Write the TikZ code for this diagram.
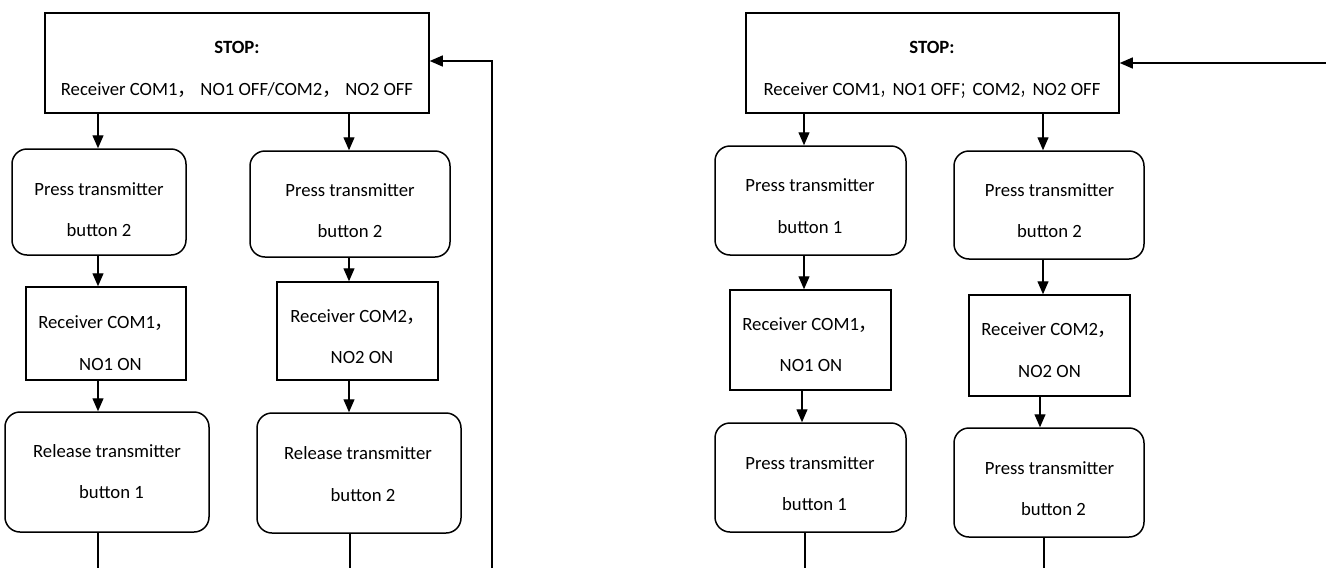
\documentclass[tikz,border=0pt]{standalone}
\usepackage{fontspec}
\setmainfont{Carlito}
\newfontfamily\cjk{Noto Sans CJK SC}
\usetikzlibrary{arrows.meta,fit}
\newcommand{\fcomma}{{\cjk ，}}
\newcommand{\hcomma}{\scalebox{0.66}[1]{\cjk ，}}
\newcommand{\hsemi}{\scalebox{0.66}[1]{\cjk ；}}
\begin{document}
\begin{tikzpicture}[x=1pt,y=-1pt,
  sq/.style={draw,line width=1.5pt,inner sep=0pt},
  rd/.style={draw,line width=1.5pt,inner sep=0pt,rounded corners=15pt},
  txt/.style={anchor=base,inner sep=0pt,font=\fontsize{18.7}{22}\selectfont},
  arr/.style={line width=1.3pt,-{Triangle[length=13pt,width=11pt]}},
  ln/.style={line width=1.3pt}]
\useasboundingbox (0,0) rectangle (1326,568);
\fill[white] (0,0) rectangle (1326,568);
% ---------- left chart ----------
\node[sq,fit={(45,13) (429,113)}] (s1) {};
\node[rd,fit={(12,149) (186,255)}] (p1) {};
\node[sq,fit={(26,287) (186,380)}] (r1) {};
\node[rd,fit={(5,412) (209,532)}] (rel1) {};
\node[rd,fit={(250,151) (450,257)}] (p2) {};
\node[sq,fit={(277,282) (438,380)}] (r2) {};
\node[rd,fit={(257,413) (461,533)}] (rel2) {};
\node[txt] (s1a) at (237,53) {\bfseries STOP:};
\node[txt] (s1b) at (237,95) {Receiver COM1\fcomma\ NO1 OFF/COM2\fcomma\ NO2 OFF};
\node[txt] (p1a) at (99,195) {Press transmitter};
\node[txt] (p1b) at (99,236) {button 2};
\node[txt] (r1a) at (106,328) {Receiver COM1\fcomma};
\node[txt] (r1b) at (110.5,370) {NO1 ON};
\node[txt] (rel1a) at (107,457) {Release transmitter};
\node[txt] (rel1b) at (111.5,498) {button 1};
\node[txt] (p2a) at (350,196) {Press transmitter};
\node[txt] (p2b) at (350,237) {button 2};
\node[txt] (r2a) at (358,322) {Receiver COM2\fcomma};
\node[txt] (r2b) at (362,363) {NO2 ON};
\node[txt] (rel2a) at (358,459) {Release transmitter};
\node[txt] (rel2b) at (363,501) {button 2};
\draw[arr] (98,0 |- s1.south) -- (98,0 |- p1.north);
\draw[arr] (98,0 |- p1.south) -- (98,0 |- r1.north);
\draw[arr] (98,0 |- r1.south) -- (98,0 |- rel1.north);
\draw[arr] (349,0 |- s1.south) -- (349,0 |- p2.north);
\draw[arr] (349,0 |- p2.south) -- (349,0 |- r2.north);
\draw[arr] (349,0 |- r2.south) -- (349,0 |- rel2.north);
\coordinate (e1) at (98,568);
\coordinate (e2) at (350,568);
\coordinate (fb) at (492,568);
\draw[ln] (e1 |- rel1.south) -- (e1);
\draw[ln] (e2 |- rel2.south) -- (e2);
\draw[arr] (fb) -- (492,61) -- (s1.east |- 0,61);
% ---------- right chart ----------
\node[sq,fit={(746,13) (1119,113)}] (s2) {};
\node[rd,fit={(715,146) (906,255)}] (q1) {};
\node[sq,fit={(730,290) (891,390)}] (t1) {};
\node[rd,fit={(715,423) (906,532)}] (q1c) {};
\node[rd,fit={(954,151) (1144,259)}] (q2) {};
\node[sq,fit={(969,295) (1130,396)}] (t2) {};
\node[rd,fit={(954,428) (1144,537)}] (q2c) {};
\node[txt] (s2a) at (932,53) {\bfseries STOP:};
\node[txt] (s2b) at (932,95) {Receiver COM1\hcomma NO1 OFF\hsemi COM2\hcomma NO2 OFF};
\node[txt] (q1a) at (810,191) {Press transmitter};
\node[txt] (q1b) at (810,233) {button 1};
\node[txt] (t1a) at (810,330) {Receiver COM1\fcomma};
\node[txt] (t1b) at (811,371) {NO1 ON};
\node[txt] (q1ca) at (810,469) {Press transmitter};
\node[txt] (q1cb) at (814.5,510) {button 1};
\node[txt] (q2a) at (1049.5,196) {Press transmitter};
\node[txt] (q2b) at (1049.5,237) {button 2};
\node[txt] (t2a) at (1049,335) {Receiver COM2\fcomma};
\node[txt] (t2b) at (1049.5,377) {NO2 ON};
\node[txt] (q2ca) at (1049.5,474) {Press transmitter};
\node[txt] (q2cb) at (1053.5,515) {button 2};
\draw[arr] (804,0 |- s2.south) -- (804,0 |- q1.north);
\draw[arr] (804,0 |- q1.south) -- (804,0 |- t1.north);
\draw[arr] (802,0 |- t1.south) -- (802,0 |- q1c.north);
\draw[arr] (1043,0 |- s2.south) -- (1043,0 |- q2.north);
\draw[arr] (1043,0 |- q2.south) -- (1043,0 |- t2.north);
\draw[arr] (1040,0 |- t2.south) -- (1040,0 |- q2c.north);
\coordinate (e3) at (805,568);
\coordinate (e4) at (1044,568);
\coordinate (in) at (1326,63);
\draw[ln] (e3 |- q1c.south) -- (e3);
\draw[ln] (e4 |- q2c.south) -- (e4);
\draw[arr] (in) -- (s2.east |- in);
\end{tikzpicture}
\end{document}
